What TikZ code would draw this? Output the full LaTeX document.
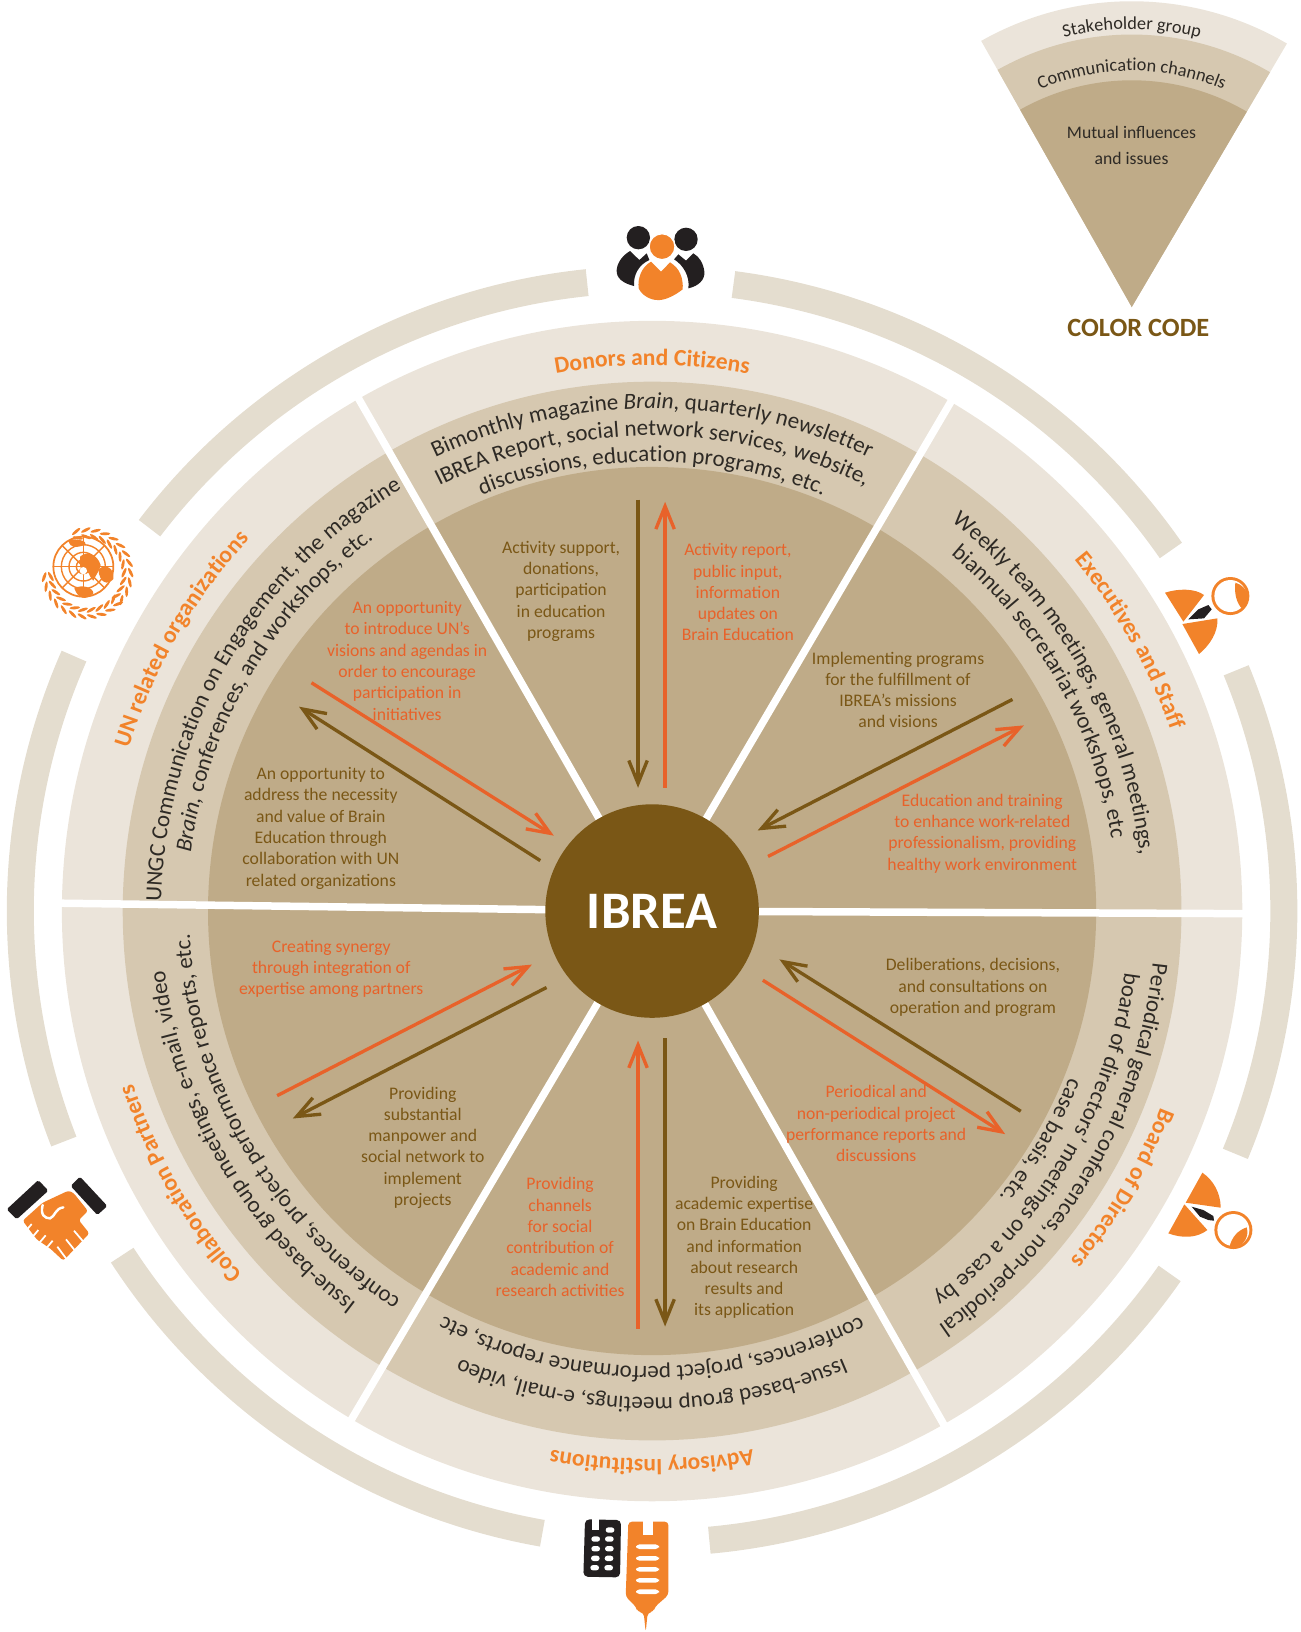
\documentclass[tikz,border=0pt]{standalone}
\usepackage{fontspec}
\setmainfont{Carlito}
\usetikzlibrary{arrows.meta,decorations.text}
\definecolor{ringa}{HTML}{EBE4DA}
\definecolor{ringb}{HTML}{D6C8B0}
\definecolor{ringc}{HTML}{BFAB88}
\definecolor{outerarc}{HTML}{E4DDCF}
\definecolor{hub}{HTML}{7A5716}
\definecolor{arrbrown}{HTML}{7A5716}
\definecolor{arrorange}{HTML}{E8622A}
\definecolor{labelor}{HTML}{F2832A}
\definecolor{icondark}{HTML}{231F20}
\definecolor{inktext}{HTML}{2E2A25}
\tikzset{
  bodytext/.style={align=center,inner sep=0pt,yshift=-.02cm,font=\fontsize{10.05}{12.1}\selectfont},
  brownt/.style={bodytext,text=arrbrown},
  oranget/.style={bodytext,text=arrorange},
  brownarr/.style={draw=arrbrown,line width=1.9pt,-{Straight Barb[length=13pt,width=10.5pt]}},
  orangearr/.style={draw=arrorange,line width=1.9pt,-{Straight Barb[length=13pt,width=10.5pt]}},
  outerseg/.style={draw=outerarc,line width=.54cm},
  spoke/.style={draw=white,line width=.15cm},
  zu/.style={x=.006667cm,y=-.006667cm},
  zup/.style={x=.006667cm,y=.006667cm}
}
\newcommand\ringline[4]{\path[decorate,decoration={text along path,text align=center,text={|#3|#4}}] (#1+42:#2) arc[start angle=#1+42,end angle=#1-42,radius=#2];}
\newcommand\rfont{\fontsize{13.1}{14}\selectfont\color{inktext}}
\newcommand\rifont{\fontsize{13.1}{14}\selectfont\itshape\color{inktext}}
\newcommand\lfont{\fontsize{13.4}{14}\selectfont\bfseries\color{labelor}}
\newcommand\gfont{\fontsize{10.4}{12}\selectfont\color{inktext}}
\begin{document}
\begin{tikzpicture}[x=.0208cm,y=-.0208cm]
\useasboundingbox (0,0) rectangle (1250,1569.23);
\begin{scope}[shift={(1.5,.5)}]
% wheel
\begin{scope}[shift={(625.5,875.5)},x=.0208cm,y=.0208cm]
  \fill[ringa] (0,0) circle[radius=567.5];
  \fill[ringb] (0,0) circle[radius=509];
  \fill[ringc] (0,0) circle[radius=427];
  \foreach \a in {59.6,119.8,179.24,239.4,299.6,359.75}
    \draw[spoke] (0,0) -- (\a:592);
  \foreach \s/\e in {82.6/34.8,22.4/-22.6,-35/-84.8,-100/-147,-158.6/-203.8,-217.3/-264.1}
    \draw[outerseg] (\s:607.5) arc[start angle=\s,end angle=\e,radius=607.5];
  % stakeholder labels
  \ringline{90}{525}{\lfont}{Donors and Citizens}
  \ringline{29.5}{528}{\lfont}{Executives and Staff}
  \ringline{-30.5}{524}{\lfont}{Board of Directors}
  \ringline{-90}{527}{\lfont}{Advisory Institutions}
  \ringline{-150}{526}{\lfont}{Collaboration Partners}
  \ringline{150}{527}{\lfont}{UN related organizations}
  % channels
  \ringline{90}{483}{\rfont}{Bimonthly magazine |\rifont|Brain|\rfont|, quarterly newsletter}
  \ringline{90}{457}{\rfont}{IBREA Report, social network services, website,}
  \ringline{90}{432}{\rfont}{discussions, education programs, etc.}
  \ringline{29.5}{472}{\rfont}{Weekly team meetings, general meetings,}
  \ringline{29.5}{447}{\rfont}{biannual secretariat workshops, etc}
  \ringline{-30.6}{484}{\rfont}{Periodical general conferences, non-periodical}
  \ringline{-30.6}{458}{\rfont}{board of directors' meetings on a case by}
  \ringline{-30.6}{432}{\rfont}{case basis, etc.}
  \ringline{-90}{468}{\rfont}{Issue-based group meetings, e-mail, video}
  \ringline{-90}{438}{\rfont}{conferences, project performance reports, etc}
  \ringline{-150}{472}{\rfont}{Issue-based group meetings, e-mail, video}
  \ringline{-150}{445}{\rfont}{conferences, project performance reports, etc.}
  \ringline{149.8}{472}{\rfont}{UNGC Communication on Engagement, the magazine}
  \ringline{149.8}{447}{\rfont}{|\rifont|Brain|\rfont|, conferences, and workshops, etc.}
\end{scope}
% arrows
\coordinate (ta) at (612,480); \coordinate (tb) at (612,757);
\coordinate (tc) at (638,757); \coordinate (td) at (638,482);
\coordinate (ra) at (972,672); \coordinate (rb) at (727,798);
\coordinate (rc) at (737,823); \coordinate (rd) at (983,697);
\coordinate (sa) at (980,1068); \coordinate (sb) at (748,922);
\coordinate (sc) at (732,942); \coordinate (sd) at (965,1090);
\coordinate (ba) at (638,998); \coordinate (bb) at (638,1275);
\coordinate (bc) at (612,1277); \coordinate (bd) at (612,1000);
\coordinate (la) at (524,949); \coordinate (lb) at (280,1075);
\coordinate (lc) at (265,1053); \coordinate (ld) at (510,927);
\coordinate (ua) at (518,827); \coordinate (ub) at (286,679);
\coordinate (uc) at (298,656); \coordinate (ud) at (531,803);
\draw[brownarr] (ta) -- (tb); \draw[orangearr] (tc) -- (td);
\draw[brownarr] (ra) -- (rb); \draw[orangearr] (rc) -- (rd);
\draw[brownarr] (sa) -- (sb); \draw[orangearr] (sc) -- (sd);
\draw[brownarr] (ba) -- (bb); \draw[orangearr] (bc) -- (bd);
\draw[brownarr] (la) -- (lb); \draw[orangearr] (lc) -- (ld);
\draw[brownarr] (ua) -- (ub); \draw[orangearr] (uc) -- (ud);
% hub
\node[circle,fill=hub,minimum size=4.27cm,inner sep=0pt,text=white,font=\fontsize{30}{34}\selectfont\bfseries] (ibrea) at (625.5,875.5) {IBREA};
% body text
\node[brownt] (t1) at (538,567) {Activity support,\\donations,\\participation\\in education\\programs};
\node[oranget] (t2) at (708,568) {Activity report,\\public input,\\information\\updates on\\Brain Education};
\node[brownt] (t3) at (862,662) {Implementing programs\\for the fulfillment of\\IBREA's missions\\and visions};
\node[oranget] (t4) at (943,800) {Education and training\\to enhance work-related\\professionalism, providing\\healthy work environment};
\node[brownt] (t5) at (934,948) {Deliberations, decisions,\\and consultations on\\operation and program};
\node[oranget] (t6) at (841,1079) {Periodical and\\non-periodical project\\performance reports and\\discussions};
\node[brownt] (t7) at (714,1198) {Providing\\academic expertise\\on Brain Education\\and information\\about research\\results and\\its application};
\node[oranget] (t8) at (537,1188) {Providing\\channels\\for social\\contribution of\\academic and\\research activities};
\node[brownt] (t9) at (405,1102) {Providing\\substantial\\manpower and\\social network to\\implement\\projects};
\node[oranget] (t10) at (317,930) {Creating synergy\\through integration of\\expertise among partners};
\node[brownt] (t11) at (307,795) {An opportunity to\\address the necessity\\and value of Brain\\Education through\\collaboration with UN\\related organizations};
\node[oranget] (t12) at (390,634) {An opportunity\\to introduce UN's\\visions and agendas in\\order to encourage\\participation in\\initiatives};
\end{scope}
% legend
\begin{scope}[shift={(1088.2,295.2)},x=.0208cm,y=.0208cm]
  \fill[ringa] (0,0) -- (59.5:294) arc[start angle=59.5,end angle=119.5,radius=294] -- cycle;
  \fill[ringb] (0,0) -- (59.5:262) arc[start angle=59.5,end angle=119.5,radius=262] -- cycle;
  \fill[ringc] (0,0) -- (59.5:218) arc[start angle=59.5,end angle=119.5,radius=218] -- cycle;
  \ringline{90}{267}{\gfont}{Stakeholder group}
  \ringline{90}{227}{\gfont}{Communication channels}
\end{scope}
\node[bodytext,text=inktext] (lg1) at (1088,139) {Mutual influences\\[3pt]and issues};
\node[inner sep=0pt,text=arrbrown,font=\fontsize{15}{16}\selectfont\bfseries] (lg2) at (1094.5,315) {COLOR CODE};
% people icon
\begin{scope}[shift={(580/1.04,200/1.04)},zu]
  \fill[icondark] (175,113) circle[radius=35];
  \fill[icondark] (318,118) circle[radius=35];
  \fill[icondark] (150,153) -- (178,180) -- (200,160) -- (208,180) .. controls (175,195) and (160,225) .. (162,258) .. controls (130,250) and (108,235) .. (110,210) .. controls (112,185) and (130,165) .. (150,153) -- cycle;
  \fill[icondark] (340,160) -- (318,182) -- (295,163) -- (282,178) .. controls (310,195) and (330,230) .. (325,265) .. controls (355,258) and (375,240) .. (373,215) .. controls (370,190) and (358,170) .. (340,160) -- cycle;
  \filldraw[fill=labelor,draw=white,line width=.8pt] (246,140) circle[radius=39];
  \fill[labelor] (213,185) -- (243,215) -- (270,187) .. controls (300,205) and (310,235) .. (308,268) .. controls (280,290) and (250,302) .. (232,300) .. controls (210,300) and (185,285) .. (176,265) .. controls (172,235) and (185,200) .. (213,185) -- cycle;
\end{scope}
% executives icon
\begin{scope}[shift={(1130/1.04,550/1.04)},zu]
  \fill[labelor] (160,215) -- (105,128) .. controls (145,115) and (195,115) .. (222,135) -- cycle;
  \fill[labelor] (157,222) -- (262,205) .. controls (265,245) and (240,285) .. (207,312) -- cycle;
  \fill[icondark] (175,208) -- (205,178) -- (235,165) -- (245,178) -- (222,205) -- cycle;
  \fill[labelor] (301,138) circle[radius=57];
  \fill[white] (301,138) circle[radius=48];
  \fill[labelor] (316,98) .. controls (312,125) and (318,160) .. (338,178) .. controls (365,150) and (355,110) .. (316,98) -- cycle;
\end{scope}
% board icon
\begin{scope}[shift={(1150/1.04,1150/1.04)},zu]
  \fill[labelor] (107,158) -- (157,68) .. controls (190,90) and (212,130) .. (212,173) -- cycle;
  \fill[labelor] (103,163) -- (172,240) .. controls (140,265) and (95,265) .. (55,250) -- cycle;
  \fill[icondark] (125,170) -- (160,180) -- (190,198) -- (192,212) -- (175,210) -- (150,200) -- cycle;
  \fill[labelor] (250,240) circle[radius=57];
  \fill[white] (250,240) circle[radius=48];
  \fill[labelor] (290,232) .. controls (265,240) and (245,260) .. (238,292) .. controls (275,295) and (300,265) .. (290,232) -- cycle;
\end{scope}
% handshake icon
\begin{scope}[shift={(0,1150/1.04)},zu]
  \fill[icondark,rounded corners=1pt] (20,178) -- (115,90) -- (145,122) -- (50,208) -- cycle;
  \fill[icondark,rounded corners=1pt] (212,108) -- (240,80) -- (322,168) -- (292,195) -- cycle;
  \fill[labelor,rounded corners=1.5pt] (68,212) -- (128,158) -- (205,122) -- (220,128) -- (264,183) -- (236,210) -- (268,250) -- (190,332) -- (150,295) -- (110,268) -- cycle;
  \draw[white,line width=1.4pt,line cap=round] (128,165) .. controls (120,195) and (135,205) .. (150,205) .. controls (165,200) and (165,175) .. (190,172);
  \foreach \a/\b in {95/222,115/240,137/256,158/272}
    \draw[white,line width=1pt] (\a,\b) -- (\a-22,\b+26);
  \draw[white,line width=1pt] (222,242) -- (250,275);
  \draw[white,line width=1pt] (198,268) -- (226,303);
  \draw[white,line width=1pt] (172,290) -- (198,325);
\end{scope}
% institution icon
\begin{scope}[shift={(560/1.04,1500/1.04)},zu]
  \fill[icondark,rounded corners=2.5pt] (75,58) -- (183,60) -- (180,232) -- (70,230) -- cycle;
  \fill[white] (95,55) rectangle (118,90);
  \foreach \p in {150/90,107/117,148/117,107/146,148/146,106/175,147/175,104/203,146/203}
    \foreach \xx/\yy in \p {\fill[white,rounded corners=1.5pt] (\xx-13,\yy-8) rectangle (\xx+13,\yy+8);}
  \fill[labelor,rounded corners=2pt] (205,65) -- (325,65) -- (325,285) -- (285,320) -- (280,335) -- (263,338) -- (257,396) -- (251,338) -- (232,335) -- (228,320) -- (197,290) -- cycle;
  \fill[white] (248,60) rectangle (278,105);
  \foreach \yy in {140,175,208,241,275}
    \fill[white,rounded corners=2pt] (228,\yy-7) rectangle (297,\yy+7);
\end{scope}
% UN icon
\begin{scope}[shift={(30/1.04,510/1.04)},zu]
  \draw[labelor,line width=1pt] (160,170) circle[radius=90];
  \draw[labelor,line width=.8pt] (160,170) circle[radius=66];
  \draw[labelor,line width=.8pt] (160,170) circle[radius=43];
  \draw[labelor,line width=.8pt] (160,170) circle[radius=21];
  \foreach \a in {0,45,...,315}
    \draw[labelor,line width=.8pt] (160,170) -- ++(\a:90);
  \fill[labelor] (150,140) .. controls (170,122) and (200,130) .. (212,165) .. controls (207,185) and (197,195) .. (190,212) .. controls (172,195) and (180,175) .. (150,172) -- cycle;
  \fill[labelor] (205,178) .. controls (225,160) and (254,172) .. (250,207) .. controls (232,228) and (208,218) .. (205,178) -- cycle;
  \fill[labelor] (133,235) .. controls (155,222) and (190,232) .. (190,250) .. controls (170,270) and (145,270) .. (133,235) -- cycle;
  \fill[labelor] (115,90) .. controls (130,85) and (175,90) .. (165,105) .. controls (140,112) and (120,118) .. (115,90) -- cycle;
  \fill[white] (160,182) circle[radius=11];
  \begin{scope}[shift={(172,190)},zup]
    \foreach \a in {-38,-25,...,107}
      {\fill[labelor,shift={(\a:110)},rotate=\a+65] (0,0) ellipse[x radius=16,y radius=4.5];
       \fill[labelor,shift={(\a:130)},rotate=\a+115] (0,0) ellipse[x radius=16,y radius=4.5];}
    \foreach \a in {-45,-58,...,-176}
      {\fill[labelor,shift={(\a:110)},rotate=\a+115] (0,0) ellipse[x radius=16,y radius=4.5];
       \fill[labelor,shift={(\a:130)},rotate=\a+65] (0,0) ellipse[x radius=16,y radius=4.5];}
  \end{scope}
\end{scope}
\end{tikzpicture}
\end{document}
